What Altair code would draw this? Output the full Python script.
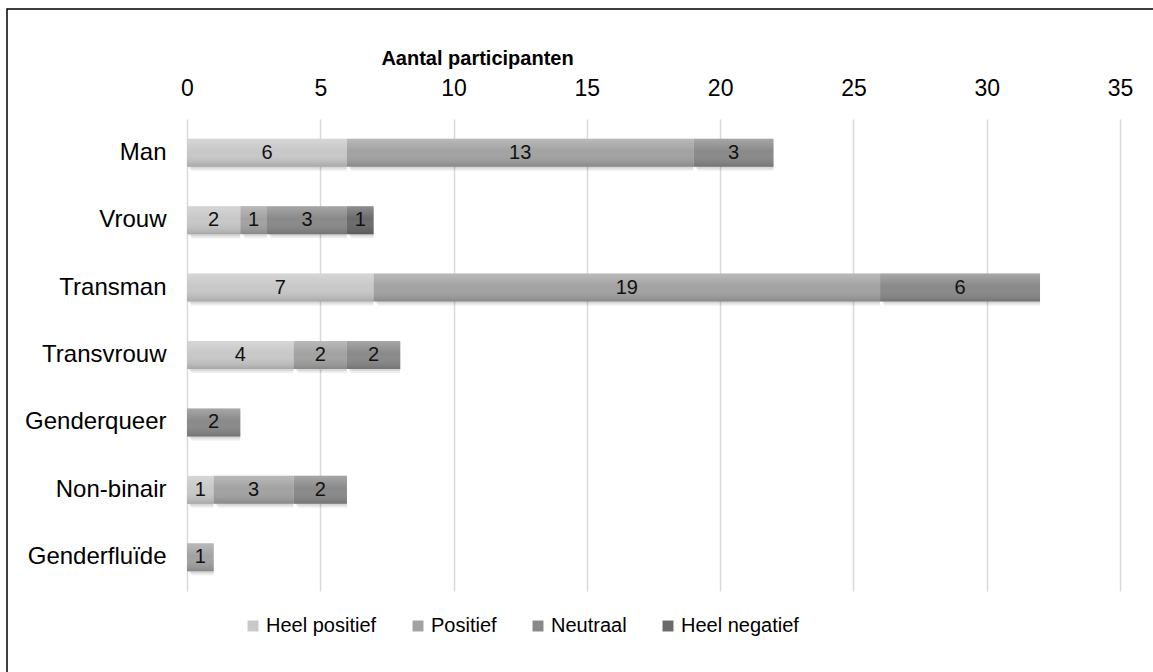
import altair as alt
import pandas as pd

# Survey answers per gender identity, counts per answer category
categories = ["Man", "Vrouw", "Transman", "Transvrouw", "Genderqueer", "Non-binair", "Genderfluïde"]
answers = ["Heel positief", "Positief", "Neutraal", "Heel negatief"]
heel_positief = [6, 2, 7, 4, 0, 1, 0]
positief = [13, 1, 19, 2, 0, 3, 1]
neutraal = [3, 3, 6, 2, 2, 2, 0]
heel_negatief = [0, 1, 0, 0, 0, 0, 0]
answer_colors = ["#c8c8c8", "#a2a2a2", "#898989", "#6a6a6a"]
x_ticks = [0, 5, 10, 15, 20, 25, 30, 35]

series = [heel_positief, positief, neutraal, heel_negatief]
rows = []
for k, (name, vals) in enumerate(zip(answers, series)):
    for cat, v in zip(categories, vals):
        if v > 0:
            rows.append({"cat": cat, "answer": name, "ord": k, "n": v})
df = pd.DataFrame(rows)

W, H = 933, 472
PAD = {"left": 187, "top": 119, "right": 33, "bottom": 81}
FONT = "Liberation Sans"

x_scale = alt.Scale(domain=[0, 35], nice=False, zero=True)
y_scale = alt.Scale(domain=categories, paddingInner=0.585, paddingOuter=0.2925)

x_axis = alt.Axis(
    orient="top", values=x_ticks, grid=True, gridColor="#d9d9d9", gridWidth=1.5,
    domain=False, ticks=False, labelFontSize=23, labelColor="#000000", labelFont=FONT,
    labelPadding=19, labelFlush=False, labelOverlap=False,
    title="Aantal participanten", titleFont=FONT, titleFontSize=20,
    titleFontWeight="bold", titleColor="#000000", titleX=290, titleY=-61,
    titleAlign="center", titleBaseline="middle",
)
y_axis = alt.Axis(
    title=None, domain=False, ticks=False, grid=False, labelFontSize=24,
    labelColor="#000000", labelFont=FONT, labelPadding=21,
)

base = alt.Chart(df).transform_stack(
    stack="n", as_=["x0", "x1"], groupby=["cat"], sort=[alt.SortField("ord")]
).transform_calculate(mid="(datum.x0 + datum.x1) / 2")

pos = dict(
    y=alt.Y("cat:N", sort=categories, scale=y_scale, axis=y_axis),
    x=alt.X("x0:Q", scale=x_scale, axis=x_axis),
    x2="x1:Q",
)

# soft drop shadow under the bars
shadow1 = base.mark_bar(color="#000000", opacity=0.07, xOffset=4, yOffset=4).encode(**pos)
shadow2 = base.mark_bar(color="#000000", opacity=0.09, xOffset=2, yOffset=2).encode(**pos)

bars = base.mark_bar().encode(
    **pos,
    color=alt.Color(
        "answer:N",
        scale=alt.Scale(domain=answers, range=answer_colors),
        legend=alt.Legend(
            title=None, orient="none", legendX=56, legendY=497, direction="horizontal",
            symbolType="square", symbolSize=120, symbolStrokeWidth=0, labelFont=FONT,
            labelFontSize=20, labelColor="#000000", labelOffset=3, columnPadding=31,
        ),
    ),
    order=alt.Order("ord:Q"),
)

# vertical shading on each segment: lighter at the top, darker at the bottom
shade = base.mark_bar(
    color=alt.Gradient(
        gradient="linear", x1=0, y1=0, x2=0, y2=1,
        stops=[
            alt.GradientStop(offset=0, color="rgba(255,255,255,0.25)"),
            alt.GradientStop(offset=0.45, color="rgba(255,255,255,0.0)"),
            alt.GradientStop(offset=1, color="rgba(0,0,0,0.16)"),
        ],
    )
).encode(**pos)

labels = base.mark_text(
    font=FONT, fontSize=20, color="#111111", baseline="middle", align="center"
).encode(
    y=alt.Y("cat:N", sort=categories, scale=y_scale, axis=y_axis),
    x=alt.X("mid:Q", scale=x_scale, axis=x_axis),
    text="n:Q",
)

# outer chart frame; its right and bottom sides run well past the canvas
frame = alt.Chart(pd.DataFrame({"k": [0]})).mark_rect(
    fill=None, stroke="#000000", strokeWidth=1.5
).encode(
    x=alt.value(-180), x2=alt.value(W + PAD["right"] + 300),
    y=alt.value(-110), y2=alt.value(H + PAD["bottom"] + 300),
)

chart = alt.layer(frame, shadow1, shadow2, bars, shade, labels).properties(
    width=W, height=H, autosize=alt.AutoSizeParams(type="none"), padding=PAD,
    background="#ffffff",
).configure_view(stroke=None)

chart.save("out.html", embed_options={"renderer": "svg", "actions": False})
